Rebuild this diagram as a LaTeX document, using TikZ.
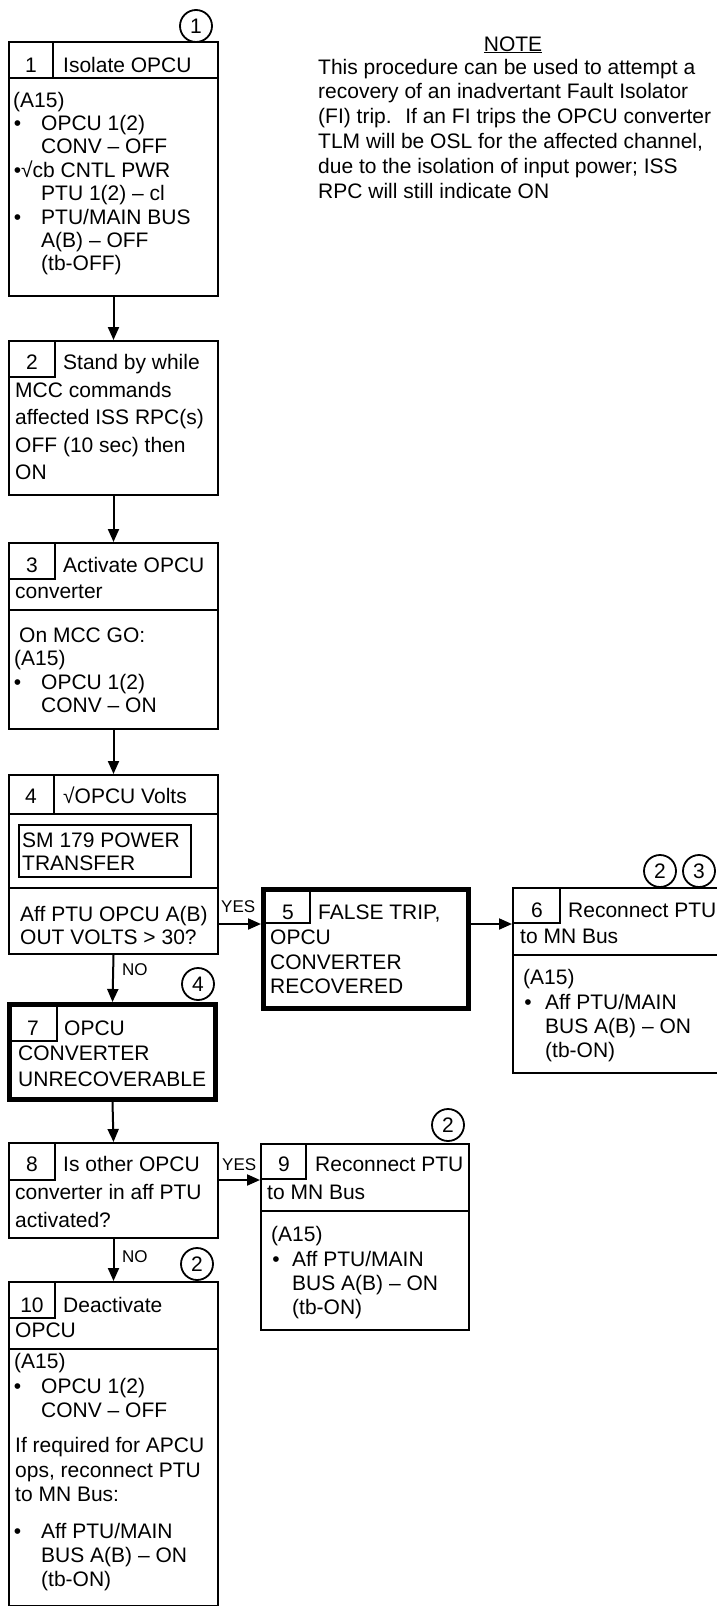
\documentclass[tikz,border=0pt]{standalone}
\usepackage{fontspec}
\setmainfont{Liberation Sans}
\usetikzlibrary{arrows.meta}
\newcommand\mainf{\fontsize{21}{24}\selectfont}
\newcommand\lblf{\fontsize{17}{20}\selectfont}
% rectangle node from corner coordinates: name, x1, y1, x2, y2, style
\newcommand\rect[6]{\node[#6, minimum width={(#4)-(#2)}, minimum height={(#5)-(#3)}] (#1) at ({((#2)+(#4))/2},{((#3)+(#5))/2}) {};}
% text line: name, x, baseline, text
\newcommand\tl[4]{\node[txt] (#1) at (#2,#3) {#4};}
% bullet line: name, bullet x, text x, baseline, text
\newcommand\bl[5]{\node[bul] (#1b) at (#2,#4) {\textbullet}; \node[txt] (#1) at (#3,#4) {#5};}
\begin{document}
\begin{tikzpicture}[x=1pt,y=-1pt,
  bx/.style={draw, line width=2pt, inner sep=0pt},
  tbx/.style={draw, line width=5pt, inner sep=0pt},
  cell/.style={draw, line width=2pt, inner sep=0pt},
  sep/.style={line width=2pt},
  txt/.style={anchor=base west, inner sep=0pt, font=\mainf},
  num/.style={anchor=base, inner sep=0pt, font=\mainf},
  bul/.style={anchor=base, inner sep=0pt, font=\mainf},
  lbl/.style={anchor=base west, inner sep=0pt, font=\lblf},
  crc/.style={draw, circle, line width=1.8pt, minimum size=32pt, inner sep=0pt, font=\mainf},
  arr/.style={line width=2pt, -{Triangle[length=13pt,width=11pt]}}]
\useasboundingbox (0,0) rectangle (717,1606);
\fill[white] (0,0) rectangle (717,1606);

% ---------- NOTE ----------
\node[anchor=base, inner sep=0pt, font=\mainf] (notehd) at (513,51) {\underline{NOTE}};
\tl{n1}{318}{74}{This procedure can be used to attempt a}
\tl{n2}{318}{98.8}{recovery of an inadvertant Fault Isolator}
\tl{n3}{318}{123.6}{(FI) trip.~ If an FI trips the OPCU converter}
\tl{n4}{318}{148.4}{TLM will be OSL for the affected channel,}
\tl{n5}{318}{173.2}{due to the isolation of input power; ISS}
\tl{n6}{318}{198}{RPC will still indicate ON}

% ---------- Box 1 ----------
\node[crc] (k1) at (196,26) {1};
\rect{b1}{9}{42}{218}{296}{bx}
\rect{c1}{9}{42}{53}{78}{cell}
\draw[sep] (9,78) -- (218,78);
\node[num] (h1n) at (31,72) {1};
\tl{h1}{63}{72}{Isolate OPCU}
\tl{t1a}{13}{107}{(A15)}
\bl{t1b}{17.5}{41}{130.4}{OPCU 1(2)}
\tl{t1c}{41}{153.8}{CONV -- OFF}
\node[bul] (t1db) at (17.5,177.2) {\textbullet};
\tl{t1d}{21}{177.2}{√cb CNTL PWR}
\tl{t1e}{41}{200.6}{PTU 1(2) -- cl}
\bl{t1f}{17.5}{41}{224}{PTU/MAIN BUS}
\tl{t1g}{41}{247.4}{A(B) -- OFF}
\tl{t1h}{41}{270.8}{(tb-OFF)}

% ---------- Box 2 ----------
\rect{b2}{9}{341}{218}{495}{bx}
\rect{c2}{9}{341}{55}{377}{cell}
\node[num] (h2n) at (32,369) {2};
\tl{h2}{63}{369}{Stand by while}
\tl{t2a}{15}{397}{MCC commands}
\tl{t2b}{15}{424.5}{affected ISS RPC(s)}
\tl{t2c}{15}{452}{OFF (10 sec) then}
\tl{t2d}{15}{479.5}{ON}

% ---------- Box 3 ----------
\rect{b3}{9}{543}{218}{729}{bx}
\rect{c3}{9}{543}{55}{579}{cell}
\draw[sep] (9,610) -- (218,610);
\node[num] (h3n) at (32,572) {3};
\tl{h3}{63}{572}{Activate OPCU}
\tl{h3b}{15}{598}{converter}
\tl{t3a}{19}{642}{On MCC GO:}
\tl{t3b}{14}{665.5}{(A15)}
\bl{t3c}{17.5}{41}{689}{OPCU 1(2)}
\tl{t3d}{41}{712.5}{CONV -- ON}

% ---------- Box 4 ----------
\rect{b4}{9}{775}{218}{954}{bx}
\rect{c4}{9}{775}{54}{814}{cell}
\draw[sep] (9,814) -- (218,814);
\node[num] (h4n) at (31,803) {4};
\tl{h4}{63}{803}{√OPCU Volts}
\rect{sm}{19}{825}{191}{877}{bx}
\tl{t4a}{22}{847}{SM 179 POWER}
\tl{t4b}{22}{870}{TRANSFER}
\draw[sep] (9,888) -- (218,888);
\tl{t4c}{20}{921}{Aff PTU OPCU A(B)}
\tl{t4d}{20}{944}{OUT VOLTS > 30?}

% ---------- Box 5 ----------
\rect{c5}{263.5}{889.5}{310}{923}{cell}
\rect{b5}{263.5}{889.5}{468.5}{1008.5}{tbx}
\node[num] (h5n) at (288,919) {5};
\tl{h5}{318}{919}{FALSE TRIP,}
\tl{t5a}{270}{944.5}{OPCU}
\tl{t5b}{270}{969}{CONVERTER}
\tl{t5c}{270}{993.5}{RECOVERED}

% ---------- Box 6 ----------
\node[crc] (k2a) at (660,871) {2};
\node[crc] (k3) at (699,871) {3};
\rect{b6}{513}{888}{722}{1073}{bx}
\rect{c6}{513}{888}{560}{923}{cell}
\draw[sep] (513,955) -- (722,955);
\node[num] (h6n) at (537,917) {6};
\tl{h6}{568}{917}{Reconnect PTU}
\tl{h6b}{520}{943}{to MN Bus}
\tl{t6a}{523}{984}{(A15)}
\bl{t6b}{528}{545}{1009}{Aff PTU/MAIN}
\tl{t6c}{545}{1033}{BUS A(B) -- ON}
\tl{t6d}{545}{1057}{(tb-ON)}

% ---------- Box 7 ----------
\node[crc] (k4) at (198,984) {4};
\rect{c7}{9.5}{1004.5}{57}{1041}{cell}
\rect{b7}{9.5}{1004.5}{215.5}{1099.5}{tbx}
\node[num] (h7n) at (33,1035) {7};
\tl{h7}{64}{1035}{OPCU}
\tl{t7a}{18}{1060.5}{CONVERTER}
\tl{t7b}{18}{1086}{UNRECOVERABLE}

% ---------- Box 8 ----------
\rect{b8}{9}{1143}{218}{1238}{bx}
\rect{c8}{9}{1143}{55}{1180}{cell}
\node[num] (h8n) at (32,1171) {8};
\tl{h8}{63}{1171}{Is other OPCU}
\tl{t8a}{15}{1199}{converter in aff PTU}
\tl{t8b}{15}{1227}{activated?}

% ---------- Box 9 ----------
\node[crc] (k2b) at (448,1125) {2};
\rect{b9}{261}{1144}{469}{1330}{bx}
\rect{c9}{261}{1144}{306}{1179}{cell}
\draw[sep] (261,1211) -- (469,1211);
\node[num] (h9n) at (284,1171) {9};
\tl{h9}{315}{1171}{Reconnect PTU}
\tl{h9b}{267}{1199}{to MN Bus}
\tl{t9a}{271}{1241}{(A15)}
\bl{t9b}{276}{292}{1266}{Aff PTU/MAIN}
\tl{t9c}{292}{1290}{BUS A(B) -- ON}
\tl{t9d}{292}{1314}{(tb-ON)}

% ---------- Box 10 ----------
\node[crc] (k2c) at (197,1264) {2};
\rect{b10}{9}{1282}{218}{1606}{bx}
\rect{c10}{9}{1282}{55}{1318}{cell}
\draw[sep] (9,1349) -- (218,1349);
\node[num] (h10n) at (32,1312) {10};
\tl{h10}{63}{1312}{Deactivate}
\tl{h10b}{15}{1337}{OPCU}
\tl{t10a}{14}{1368}{(A15)}
\bl{t10b}{17.5}{41}{1393}{OPCU 1(2)}
\tl{t10c}{41}{1417}{CONV -- OFF}
\tl{t10d}{15}{1452}{If required for APCU}
\tl{t10e}{15}{1477}{ops, reconnect PTU}
\tl{t10f}{15}{1501}{to MN Bus:}
\bl{t10g}{17.5}{41}{1538}{Aff PTU/MAIN}
\tl{t10h}{41}{1562}{BUS A(B) -- ON}
\tl{t10i}{41}{1586}{(tb-ON)}

% ---------- Connectors ----------
\draw[arr] (b1.south) -- (b2.north);
\draw[arr] (b2.south) -- (b3.north);
\draw[arr] (b3.south) -- (b4.north);
\draw[arr] (b4.east |- c5.south) -- (b5.west |- c5.south);
\draw[arr] (b5.east |- c6.south) -- (b6.west |- c6.south);
\draw[arr] (b4.south) -- (b7.north);
\draw[arr] (b7.south) -- (b8.north);
\draw[arr] (b8.east |- c9.south) -- (b9.west |- c9.south);
\draw[arr] (b8.south) -- (b10.north);

\node[lbl] (yes1) at (221,912) {YES};
\node[lbl] (no1) at (122,975) {NO};
\node[lbl] (yes2) at (222,1170) {YES};
\node[lbl] (no2) at (122,1262) {NO};
\end{tikzpicture}
\end{document}
